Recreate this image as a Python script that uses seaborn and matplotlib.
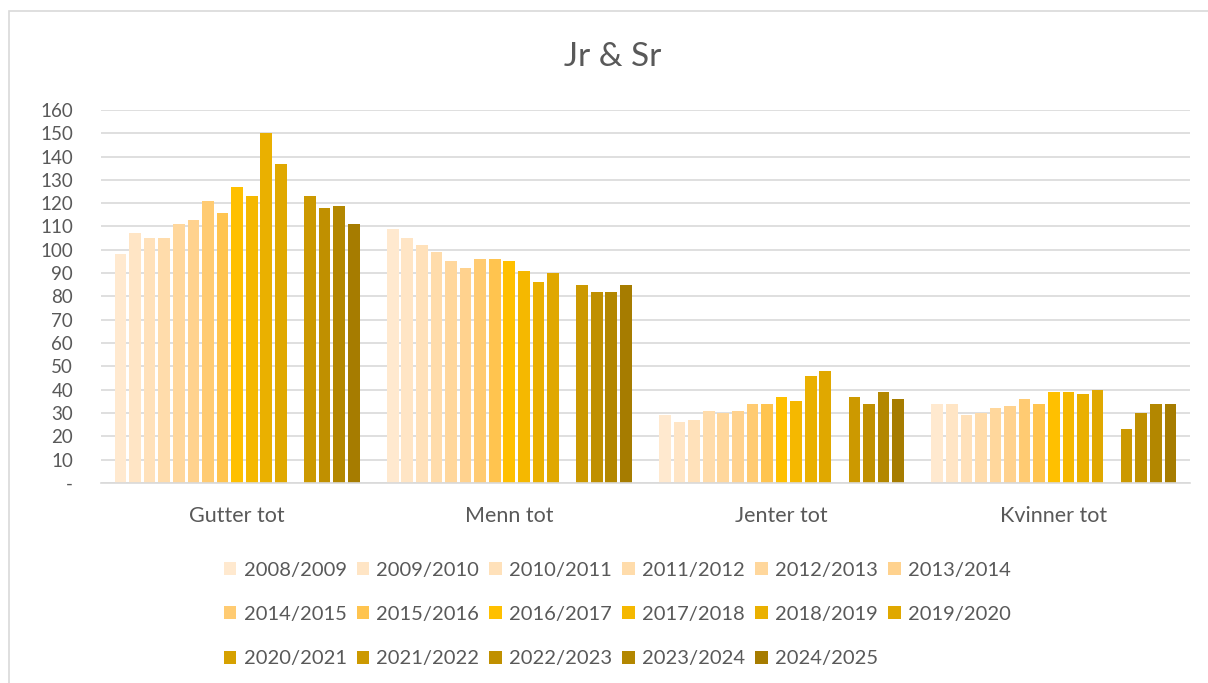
import numpy as np
import pandas as pd
import matplotlib
matplotlib.use("Agg")
import matplotlib.pyplot as plt
import seaborn as sns
from matplotlib.patches import Patch, Rectangle

# dados (2020/2021 sem valor)
kategorier = ["Gutter tot", "Menn tot", "Jenter tot", "Kvinner tot"]
sesonger = ["2008/2009", "2009/2010", "2010/2011", "2011/2012", "2012/2013", "2013/2014",
            "2014/2015", "2015/2016", "2016/2017", "2017/2018", "2018/2019", "2019/2020",
            "2020/2021", "2021/2022", "2022/2023", "2023/2024", "2024/2025"]
gutter = [98, 107, 105, 105, 111, 113, 121, 116, 127, 123, 150, 137, np.nan, 123, 118, 119, 111]
menn = [109, 105, 102, 99, 95, 92, 96, 96, 95, 91, 86, 90, np.nan, 85, 82, 82, 85]
jenter = [29, 26, 27, 31, 30, 31, 34, 34, 37, 35, 46, 48, np.nan, 37, 34, 39, 36]
kvinner = [34, 34, 29, 30, 32, 33, 36, 34, 39, 39, 38, 40, np.nan, 23, 30, 34, 34]
y_ticks = list(range(0, 161, 10))
y_labels = ["-"] + [str(v) for v in y_ticks[1:]]

farger = ["#FFE9CF", "#FFE5C5", "#FFE1BA", "#FFDCAB", "#FFD79C", "#FFD28E",
          "#FFCB72", "#FFC44F", "#FFC000", "#F5B800", "#EAB000", "#E0A800",
          "#D6A100", "#CC9900", "#C09000", "#B38700", "#A67C00"]

verdier = {"Gutter tot": gutter, "Menn tot": menn, "Jenter tot": jenter, "Kvinner tot": kvinner}
rows = []
for kat in kategorier:
    for ses, v in zip(sesonger, verdier[kat]):
        rows.append({"Kategori": kat, "Sesong": ses, "Antall": v})
df = pd.DataFrame(rows).dropna()

sns.set_style("white")
plt.rcParams['font.family'] = ['Lato', 'DejaVu Sans']
tekst = "#595959"

fig = plt.figure(figsize=(12.08, 6.83), dpi=100)
ax = fig.add_axes([0.0836, 0.293, 0.985 - 0.0836, 0.839 - 0.293])

sns.barplot(data=df, x="Kategori", y="Antall", hue="Sesong", order=kategorier,
            hue_order=sesonger, palette=farger, width=0.91, gap=0.2,
            legend=False, ax=ax, saturation=1, linewidth=0)

ax.set_ylim(0, 160)
ax.set_yticks(y_ticks)
ax.set_yticklabels(y_labels)
ax.set_xlabel("")
ax.set_ylabel("")
ax.grid(axis="y", color="#D9D9D9", linewidth=1.2)
ax.set_axisbelow(True)
for s in ["top", "right", "left"]:
    ax.spines[s].set_visible(False)
ax.spines["bottom"].set_color("#D9D9D9")
ax.spines["bottom"].set_linewidth(1.2)
ax.tick_params(axis="both", length=0, colors=tekst)
ax.tick_params(axis="y", pad=20, labelsize=13.5)
ax.tick_params(axis="x", pad=17, labelsize=15.5)

fig.text(0.507, 0.917, "Jr & Sr", ha="center", va="center", fontsize=24, color=tekst)

# legenda em linhas (6 por linha)
handles = [Patch(facecolor=c, edgecolor="none") for c in farger]
order = [r * 6 + c for c in range(6) for r in range(3) if r * 6 + c < len(sesonger)]
leg = fig.legend([handles[i] for i in order], [sesonger[i] for i in order],
                 ncol=6, loc="upper center", bbox_to_anchor=(0.511, 0.1925),
                 frameon=False, fontsize=14.5, labelcolor=tekst,
                 handlelength=0.62, handleheight=0.62, handletextpad=0.36,
                 columnspacing=0.5, labelspacing=1.36, borderpad=0)

# moldura do grafico
fig.patches.append(Rectangle((9 / 1208, -0.1), 1.2, 1 - 11 / 683 + 0.1,
                             transform=fig.transFigure, fill=False,
                             edgecolor="#D9D9D9", linewidth=1.2))

fig.savefig("out.png", dpi=100, facecolor="white")
